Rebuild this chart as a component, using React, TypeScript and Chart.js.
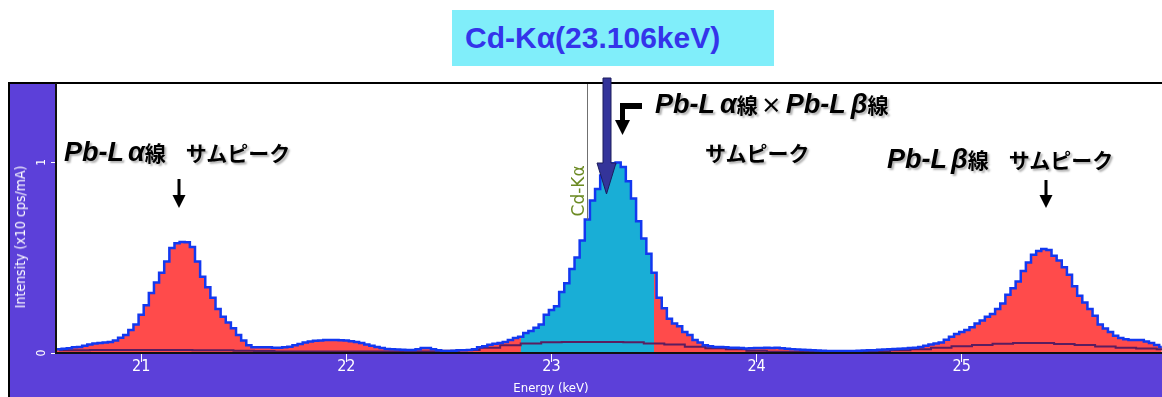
import React, { useEffect, useRef } from "react";
import { Chart, registerables } from "chart.js";

Chart.register(...registerables);

// ---- channel energies (keV) ----
const energyKeV = [
  20.575, 20.6, 20.625, 20.65, 20.675, 20.7, 20.725, 20.75, 20.775, 20.8,
  20.825, 20.85, 20.875, 20.9, 20.925, 20.95, 20.975, 21.0, 21.025, 21.05,
  21.075, 21.1, 21.125, 21.15, 21.175, 21.2, 21.225, 21.25, 21.275, 21.3,
  21.325, 21.35, 21.375, 21.4, 21.425, 21.45, 21.475, 21.5, 21.525, 21.55,
  21.575, 21.6, 21.625, 21.65, 21.675, 21.7, 21.725, 21.75, 21.775, 21.8,
  21.825, 21.85, 21.875, 21.9, 21.925, 21.95, 21.975, 22.0, 22.025, 22.05,
  22.075, 22.1, 22.125, 22.15, 22.175, 22.2, 22.225, 22.25, 22.275, 22.3,
  22.325, 22.35, 22.375, 22.4, 22.425, 22.45, 22.475, 22.5, 22.525, 22.55,
  22.575, 22.6, 22.625, 22.65, 22.675, 22.7, 22.725, 22.75, 22.775, 22.8,
  22.825, 22.85, 22.875, 22.9, 22.925, 22.95, 22.975, 23.0, 23.025, 23.05,
  23.075, 23.1, 23.125, 23.15, 23.175, 23.2, 23.225, 23.25, 23.275, 23.3,
  23.325, 23.35, 23.375, 23.4, 23.425, 23.45, 23.475, 23.5, 23.525, 23.55,
  23.575, 23.6, 23.625, 23.65, 23.675, 23.7, 23.725, 23.75, 23.775, 23.8,
  23.825, 23.85, 23.875, 23.9, 23.925, 23.95, 23.975, 24.0, 24.025, 24.05,
  24.075, 24.1, 24.125, 24.15, 24.175, 24.2, 24.225, 24.25, 24.275, 24.3,
  24.325, 24.35, 24.375, 24.4, 24.425, 24.45, 24.475, 24.5, 24.525, 24.55,
  24.575, 24.6, 24.625, 24.65, 24.675, 24.7, 24.725, 24.75, 24.775, 24.8,
  24.825, 24.85, 24.875, 24.9, 24.925, 24.95, 24.975, 25.0, 25.025, 25.05,
  25.075, 25.1, 25.125, 25.15, 25.175, 25.2, 25.225, 25.25, 25.275, 25.3,
  25.325, 25.35, 25.375, 25.4, 25.425, 25.45, 25.475, 25.5, 25.525, 25.55,
  25.575, 25.6, 25.625, 25.65, 25.675, 25.7, 25.725, 25.75, 25.775, 25.8,
  25.825, 25.85, 25.875, 25.9, 25.925, 25.95, 25.975,
];

// ---- measured spectrum (x10 cps/mA) ----
const intensity = [
  0.02, 0.02, 0.022, 0.025, 0.03, 0.032, 0.038, 0.045, 0.05, 0.052,
  0.055, 0.058, 0.065, 0.08, 0.095, 0.12, 0.15, 0.2, 0.25, 0.315,
  0.37, 0.42, 0.48, 0.55, 0.575, 0.582, 0.58, 0.555, 0.48, 0.4,
  0.345, 0.29, 0.23, 0.19, 0.16, 0.13, 0.095, 0.065, 0.04, 0.03,
  0.03, 0.03, 0.03, 0.028, 0.028, 0.03, 0.033, 0.04, 0.047, 0.055,
  0.06, 0.064, 0.066, 0.068, 0.068, 0.068, 0.067, 0.065, 0.062, 0.058,
  0.053, 0.045, 0.038, 0.031, 0.026, 0.021, 0.02, 0.018, 0.017, 0.016,
  0.016, 0.02, 0.026, 0.026, 0.02, 0.015, 0.01, 0.011, 0.012, 0.014,
  0.015, 0.016, 0.02, 0.03, 0.035, 0.043, 0.048, 0.053, 0.058, 0.068,
  0.078, 0.085, 0.105, 0.115, 0.133, 0.15, 0.2, 0.225, 0.245, 0.32,
  0.365, 0.44, 0.5, 0.59, 0.7, 0.8, 0.86, 0.93, 0.975, 0.995,
  0.998, 0.975, 0.9, 0.81, 0.69, 0.6, 0.52, 0.42, 0.29, 0.235,
  0.18, 0.155, 0.14, 0.11, 0.095, 0.068, 0.055, 0.04, 0.035, 0.032,
  0.031, 0.03, 0.028, 0.027, 0.026, 0.024, 0.025, 0.026, 0.026, 0.028,
  0.026, 0.027, 0.025, 0.022, 0.02, 0.018, 0.017, 0.016, 0.014, 0.013,
  0.012, 0.011, 0.01, 0.01, 0.01, 0.01, 0.011, 0.012, 0.013, 0.014,
  0.015, 0.017, 0.018, 0.02, 0.021, 0.022, 0.024, 0.026, 0.028, 0.032,
  0.038, 0.045, 0.05, 0.055, 0.07, 0.085, 0.1, 0.11, 0.12, 0.135,
  0.155, 0.17, 0.19, 0.205, 0.23, 0.26, 0.305, 0.34, 0.375, 0.43,
  0.475, 0.515, 0.535, 0.545, 0.54, 0.51, 0.485, 0.45, 0.41, 0.35,
  0.3, 0.265, 0.23, 0.195, 0.15, 0.128, 0.11, 0.09, 0.079, 0.072,
  0.068, 0.068, 0.068, 0.06, 0.052, 0.042, 0.032,
];

// ---- background curve ----
const backgroundEnergyKeV = [
  20.6, 20.7, 20.8, 20.9, 21.0, 21.1, 21.2, 21.3, 21.4, 21.5,
  21.6, 21.7, 21.8, 21.9, 22.0, 22.1, 22.2, 22.3, 22.4, 22.5,
  22.6, 22.7, 22.8, 22.9, 23.0, 23.1, 23.2, 23.3, 23.4, 23.5,
  23.6, 23.7, 23.8, 23.9, 24.0, 24.1, 24.2, 24.3, 24.4, 24.5,
  24.6, 24.7, 24.8, 24.9, 25.0, 25.1, 25.2, 25.3, 25.4, 25.5,
  25.6, 25.7, 25.8, 25.9, 26.0,
];
const backgroundIntensity = [
  0.015, 0.015, 0.016, 0.016, 0.016, 0.016, 0.016, 0.015, 0.014, 0.012,
  0.01, 0.008, 0.008, 0.008, 0.008, 0.008, 0.008, 0.008, 0.008, 0.012,
  0.016, 0.028, 0.04, 0.05, 0.056, 0.058, 0.058, 0.058, 0.056, 0.05,
  0.045, 0.033, 0.025, 0.02, 0.012, 0.007, 0.005, 0.005, 0.005, 0.005,
  0.008, 0.014, 0.02, 0.028, 0.036, 0.042, 0.048, 0.052, 0.052, 0.047,
  0.042, 0.034, 0.028, 0.024, 0.02,
];

const xTickValues = [21, 22, 23, 24, 25];
const yTickValues = [0, 1];
const xMin = 20.585;
const xMax = 25.976;
const yMin = 0;
const yMax = 1.41;
const roiStartKeV = 22.84;
const roiEndKeV = 23.51;
const cdKaMarkerKeV = 23.175;
const cdKaMarkerLabel = "Cd-Kα";
const xAxisTitle = "Energy (keV)";
const yAxisTitle = "Intensity (x10 cps/mA)";
const cdKaTitle = "Cd-Kα(23.106keV)";

const PANEL = "#5c40d9";
const RED = "#ff4b4b";
const CYAN = "#19aed6";
const BLUE = "#1238f0";
const BG_LINE = "#5b1d5f";
const AXIS_FONT = "'DejaVu Sans Condensed', 'DejaVu Sans', sans-serif";

const framePlugin = {
  id: "frame",
  beforeDraw(chart: any) {
    const { ctx, chartArea: a, width, height } = chart;
    ctx.save();
    ctx.fillStyle = PANEL;
    ctx.fillRect(0, 0, width, height);
    ctx.fillStyle = "#000";
    ctx.fillRect(0, 0, 2, height);
    ctx.fillRect(0, 0, width, 2);
    ctx.fillStyle = "#fff";
    ctx.fillRect(a.left, a.top, a.right - a.left, a.bottom - a.top);
    ctx.restore();
  },
  afterDatasetsDraw(chart: any) {
    const { ctx, chartArea: a, scales } = chart;
    let idx = 0;
    energyKeV.forEach((e, i) => {
      if (Math.abs(e - cdKaMarkerKeV) < Math.abs(energyKeV[idx] - cdKaMarkerKeV)) idx = i;
    });
    const x = Math.round(scales.x.getPixelForValue(cdKaMarkerKeV)) + 0.5;
    const yEnd = scales.y.getPixelForValue(intensity[idx]);
    ctx.save();
    ctx.strokeStyle = "#707070";
    ctx.lineWidth = 1;
    ctx.beginPath();
    ctx.moveTo(x, a.top);
    ctx.lineTo(x, yEnd);
    ctx.stroke();
    ctx.translate(x - 8, yEnd - 3);
    ctx.rotate(-Math.PI / 2);
    ctx.fillStyle = "#6b8a22";
    ctx.font = "17px 'DejaVu Sans', sans-serif";
    ctx.textAlign = "left";
    ctx.textBaseline = "middle";
    ctx.fillText(cdKaMarkerLabel, 0, 0);
    ctx.restore();
  },
  afterDraw(chart: any) {
    const { ctx, chartArea: a } = chart;
    ctx.save();
    ctx.fillStyle = "#111";
    ctx.fillRect(a.left - 1, a.top - 1, 2, a.bottom - a.top + 2);
    ctx.fillRect(a.left - 1, a.bottom - 1, a.right - a.left + 1, 2);
    ctx.restore();
  },
};

function SpectrumChart() {
  const ref = useRef<HTMLCanvasElement | null>(null);
  useEffect(() => {
    if (!ref.current) return;
    const spectrum = energyKeV.map((e, i) => ({ x: e, y: intensity[i] }));
    const roi = spectrum.filter((p) => p.x >= roiStartKeV && p.x <= roiEndKeV);
    const bg = backgroundEnergyKeV.map((e, i) => ({ x: e, y: backgroundIntensity[i] }));
    const chart = new Chart(ref.current, {
      type: "line",
      data: {
        datasets: [
          {
            label: "fit",
            data: spectrum,
            order: 0,
            borderColor: BLUE,
            borderWidth: 2.5,
            fill: false,
            stepped: "middle",
            pointRadius: 0,
          },
          {
            label: "background",
            data: bg,
            order: 1,
            borderColor: BG_LINE,
            borderWidth: 2,
            fill: false,
            stepped: "middle",
            pointRadius: 0,
          },
          {
            label: "ROI",
            data: roi,
            order: 2,
            borderWidth: 0,
            borderColor: "rgba(0,0,0,0)",
            backgroundColor: CYAN,
            fill: "origin",
            stepped: "middle",
            pointRadius: 0,
          },
          {
            label: "spectrum",
            data: spectrum,
            order: 3,
            borderWidth: 0,
            borderColor: "rgba(0,0,0,0)",
            backgroundColor: RED,
            fill: "origin",
            stepped: "middle",
            pointRadius: 0,
          },
        ],
      } as any,
      options: {
        animation: false,
        responsive: false,
        devicePixelRatio: 1,
        layout: { padding: { top: 2, left: 0, right: 0, bottom: 0 } },
        plugins: { legend: { display: false }, tooltip: { enabled: false } },
        scales: {
          x: {
            type: "linear",
            min: xMin,
            max: xMax,
            afterBuildTicks: (s: any) => {
              s.ticks = xTickValues.map((v) => ({ value: v }));
            },
            afterFit: (s: any) => {
              s.height = 44;
              s.paddingLeft = 0;
              s.paddingRight = 0;
            },
            border: { display: false },
            grid: {
              drawOnChartArea: false,
              drawTicks: true,
              tickLength: 9,
              tickColor: "#ffffff",
              tickWidth: 1,
            },
            ticks: {
              color: "#ffffff",
              font: { family: AXIS_FONT, size: 16 },
              padding: -5,
              autoSkip: false,
              maxRotation: 0,
              minRotation: 0,
            },
          },
          y: {
            type: "linear",
            min: yMin,
            max: yMax,
            afterBuildTicks: (s: any) => {
              s.ticks = yTickValues.map((v) => ({ value: v }));
            },
            afterFit: (s: any) => {
              s.width = 48;
              s.paddingTop = 0;
              s.paddingBottom = 0;
            },
            border: { display: false },
            grid: {
              drawOnChartArea: false,
              drawTicks: true,
              tickLength: 5,
              tickColor: "#ffffff",
              tickWidth: 1,
            },
            ticks: {
              color: "#ffffff",
              font: { family: AXIS_FONT, size: 12 },
              padding: 6,
              crossAlign: "center",
              minRotation: 90,
              maxRotation: 90,
            },
          },
        },
      } as any,
      plugins: [framePlugin],
    });
    return () => chart.destroy();
  }, []);
  return <canvas ref={ref} width={1154} height={315} style={{ display: "block" }} />;
}

const annFont = "'Liberation Sans', 'Noto Sans CJK JP', sans-serif";
const cjk = "'Noto Sans CJK JP', sans-serif";
const shadow = "2px 2px 2px rgba(0,0,0,0.3)";

function Latin({ children, ml = 0 }: any) {
  return (
    <span style={{ fontFamily: annFont, fontStyle: "italic", fontSize: 27, marginLeft: ml }}>{children}</span>
  );
}
function Kanji({ children, ml = 0, mr = 0 }: any) {
  return <span style={{ fontFamily: cjk, fontSize: 21, marginLeft: ml, marginRight: mr }}>{children}</span>;
}

export default function App() {
  useEffect(() => {
    document.body.style.margin = "0";
  }, []);
  const annBase: React.CSSProperties = {
    position: "absolute",
    whiteSpace: "nowrap",
    fontWeight: 700,
    color: "#000",
    textShadow: shadow,
    lineHeight: "30px",
    height: 30,
  };
  return (
    <div
      style={{
        position: "absolute",
        left: 0,
        top: 0,
        width: 1162,
        height: 397,
        background: "#fff",
        overflow: "hidden",
      }}
    >
      <div style={{ position: "absolute", left: 8, top: 82, width: 1154, height: 315 }}>
        <SpectrumChart />
      </div>

      {/* axis titles */}
      <div
        style={{
          position: "absolute",
          left: 20,
          top: 237,
          transform: "translate(-50%, -50%) rotate(-90deg)",
          color: "#fff",
          fontFamily: AXIS_FONT,
          fontSize: 14,
          whiteSpace: "nowrap",
          lineHeight: 1,
        }}
      >
        {yAxisTitle}
      </div>
      <div
        style={{
          position: "absolute",
          left: 551,
          top: 387,
          transform: "translate(-50%, -50%)",
          color: "#fff",
          fontFamily: AXIS_FONT,
          fontSize: 13,
          whiteSpace: "nowrap",
          lineHeight: 1,
        }}
      >
        {xAxisTitle}
      </div>

      {/* Cd-Ka title box */}
      <div style={{ position: "absolute", left: 452, top: 10, width: 322, height: 56, background: "#80eefa" }}>
        <div
          style={{
            position: "absolute",
            left: 13,
            top: 13,
            fontFamily: "'Liberation Sans', Arial, sans-serif",
            fontWeight: 700,
            fontSize: 30,
            lineHeight: "30px",
            color: "#3434ea",
            whiteSpace: "nowrap",
          }}
        >
          {cdKaTitle}
        </div>
      </div>

      {/* annotations */}
      <div style={{ ...annBase, left: 64, top: 137 }}>
        <Latin>Pb-L</Latin>
        <Latin ml={4}>α</Latin>
        <Kanji>線</Kanji>
        <Kanji ml={20}>サムピーク</Kanji>
      </div>
      <div style={{ ...annBase, left: 655, top: 89 }}>
        <Latin>Pb-L</Latin>
        <Latin ml={5}>α</Latin>
        <Kanji>線</Kanji>
        <Kanji ml={3} mr={4}>×</Kanji>
        <Latin>Pb-L</Latin>
        <Latin ml={5}>β</Latin>
        <Kanji>線</Kanji>
      </div>
      <div style={{ ...annBase, left: 705, top: 137 }}>
        <Kanji>サムピーク</Kanji>
      </div>
      <div style={{ ...annBase, left: 887, top: 144 }}>
        <Latin>Pb-L</Latin>
        <Latin ml={4}>β</Latin>
        <Kanji>線</Kanji>
        <Kanji ml={20}>サムピーク</Kanji>
      </div>

      {/* arrows */}
      <svg
        width={1162}
        height={397}
        style={{ position: "absolute", left: 0, top: 0, pointerEvents: "none" }}
      >
        <g fill="#000">
          <rect x={177.5} y={179} width={3} height={17} />
          <polygon points="172.5,195 185.5,195 179,208" />
          <rect x={1044.5} y={180} width={3} height={16} />
          <polygon points="1039.5,195 1052.5,195 1046,208" />
          <rect x={620} y={103} width={22} height={6} />
          <rect x={620} y={103} width={5} height={19} />
          <polygon points="615,120 630,120 622.5,135" />
        </g>
        <path
          d="M603,78 L611,78 L611,163 L616,163 L606.5,194 L597,163 L603,163 Z"
          fill="#34349a"
          stroke="#1c1c5c"
          strokeWidth={1}
        />
      </svg>
    </div>
  );
}
